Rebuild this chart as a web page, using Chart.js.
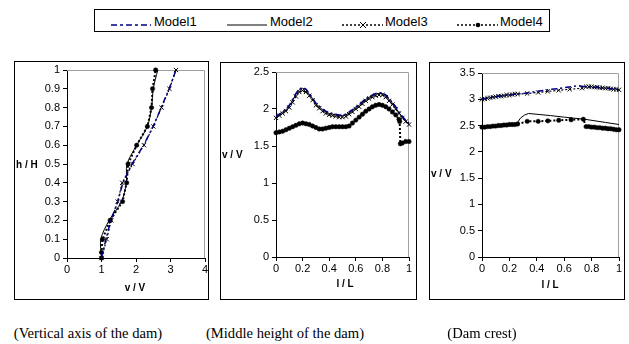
<!DOCTYPE html>
<html>
<head>
<meta charset="utf-8">
<script src="https://cdn.jsdelivr.net/npm/chart.js@4/dist/chart.umd.min.js"></script>
<style>
  body { margin: 0; background: #fff; width: 629px; height: 344px; position: relative; overflow: hidden; font-family: 'Liberation Sans', Arial, sans-serif; }
  .legend { position: absolute; left: 94px; top: 9px; width: 456px; height: 23px; box-sizing: border-box; border: 1px solid #000; }
  .item { position: absolute; top: 5px; height: 14px; font-size: 13px; line-height: 14px; white-space: nowrap; }
  .item svg { position: absolute; left: 0; top: 2px; }
  .item span { position: absolute; top: 0; }
  .panel { position: absolute; outline: 1px solid #000; outline-offset: -1px; }
  .axt { position: absolute; font-size: 10px; font-weight: bold; white-space: nowrap; transform: translateY(-50%); }
  .axt.c { transform: translate(-50%, -50%); }
  .cap { position: absolute; top: 333px; font-family: 'Liberation Serif', 'Times New Roman', serif; font-size: 14.6px; white-space: nowrap; transform: translate(-50%, -50%); }
</style>
</head>
<body>

<div class="legend">
  <div class="item" style="left:16px"><svg width="40" height="12"><line x1="0" y1="8" x2="40" y2="8" stroke="#000080" stroke-width="1.5" stroke-dasharray="6,3,3,3"/></svg><span style="left:43px">Model1</span></div>
  <div class="item" style="left:132px"><svg width="40" height="12"><line x1="0" y1="8" x2="40" y2="8" stroke="#000" stroke-width="1"/></svg><span style="left:43px">Model2</span></div>
  <div class="item" style="left:247px"><svg width="41" height="12"><line x1="0" y1="8" x2="41" y2="8" stroke="#000" stroke-width="1.5" stroke-dasharray="2,2"/><path d="M18 5 L24 11 M24 5 L18 11" stroke="#000" stroke-width="1"/></svg><span style="left:43px">Model3</span></div>
  <div class="item" style="left:362px"><svg width="41" height="12"><line x1="0" y1="8" x2="41" y2="8" stroke="#000" stroke-width="1.5" stroke-dasharray="2,2"/><circle cx="21" cy="8" r="2.3" fill="#000"/></svg><span style="left:43px">Model4</span></div>
</div>

<div class="panel" style="left:14px;top:61px;width:195px;height:239px"><canvas id="axisChart" width="195" height="239"></canvas></div>
<div class="panel" style="left:220px;top:62px;width:197px;height:238px"><canvas id="midChart" width="197" height="238"></canvas></div>
<div class="panel" style="left:429px;top:62px;width:196px;height:238px"><canvas id="crestChart" width="196" height="238"></canvas></div>

<div class="axt" style="left:16px;top:164px">h / H</div>
<div class="axt c" style="left:135px;top:287px">v / V</div>
<div class="axt" style="left:222px;top:154px">v / V</div>
<div class="axt c" style="left:345px;top:283px">l / L</div>
<div class="axt" style="left:431px;top:173px">v / V</div>
<div class="axt c" style="left:550px;top:284px">l / L</div>

<div class="cap" style="left:88px">(Vertical axis of the dam)</div>
<div class="cap" style="left:285px">(Middle height of the dam)</div>
<div class="cap" style="left:482px">(Dam crest)</div>

<script>
const modelNames = ['Model1', 'Model2', 'Model3', 'Model4'];

// vertical axis of the dam: v/V against h/H
const axisH = [0, 0.1, 0.2, 0.3, 0.4, 0.5, 0.6, 0.7, 0.8, 0.9, 1];
const axisModel1 = [1.0, 1.13, 1.27, 1.47, 1.62, 1.88, 2.22, 2.50, 2.73, 2.96, 3.16];
const axisModel2 = [1.0, 0.98, 1.22, 1.58, 1.72, 1.74, 2.02, 2.33, 2.45, 2.50, 2.63];
const axisModel3 = [1.0, 1.15, 1.28, 1.47, 1.60, 1.90, 2.23, 2.50, 2.74, 2.97, 3.16];
const axisH4 = [0, 0.03, 0.1, 0.2, 0.3, 0.4, 0.5, 0.6, 0.7, 0.8, 0.9, 1];
const axisModel4 = [1.0, 1.0, 1.03, 1.25, 1.61, 1.73, 1.77, 2.02, 2.33, 2.45, 2.48, 2.57];

// middle height of the dam: v/V against l/L
const midL = [0, 0.025, 0.05, 0.075, 0.1, 0.125, 0.15, 0.175, 0.2, 0.225, 0.25, 0.275, 0.3, 0.325, 0.35, 0.375, 0.4, 0.425, 0.45, 0.475, 0.5,
  0.525, 0.55, 0.575, 0.6, 0.625, 0.65, 0.675, 0.7, 0.725, 0.75, 0.775, 0.8, 0.825, 0.85, 0.875, 0.9, 0.925, 0.95, 0.975, 1];
const midModel1 = [1.90, 1.93, 1.96, 2.00, 2.05, 2.13, 2.21, 2.27, 2.29, 2.27, 2.21, 2.15, 2.08, 2.04, 2.00, 1.97, 1.95, 1.94, 1.93, 1.92, 1.92,
  1.93, 1.96, 1.99, 2.03, 2.06, 2.10, 2.14, 2.17, 2.19, 2.21, 2.22, 2.22, 2.19, 2.14, 2.09, 2.03, 1.96, 1.90, 1.85, 1.81];
const midModel2 = [1.90, 1.93, 1.96, 1.99, 2.04, 2.12, 2.20, 2.26, 2.28, 2.26, 2.20, 2.14, 2.07, 2.03, 1.99, 1.96, 1.94, 1.93, 1.92, 1.91, 1.91,
  1.92, 1.95, 1.98, 2.02, 2.05, 2.09, 2.13, 2.16, 2.18, 2.20, 2.21, 2.21, 2.18, 2.13, 2.08, 2.02, 1.95, 1.89, 1.84, 1.80];
const midModel3 = [1.88, 1.91, 1.94, 1.97, 2.02, 2.09, 2.17, 2.23, 2.25, 2.23, 2.18, 2.12, 2.05, 2.01, 1.97, 1.94, 1.92, 1.91, 1.90, 1.89, 1.89,
  1.90, 1.93, 1.96, 2.00, 2.03, 2.07, 2.11, 2.14, 2.16, 2.18, 2.19, 2.19, 2.16, 2.11, 2.06, 2.00, 1.94, 1.88, 1.83, 1.79];
const midL4 = [0, 0.025, 0.05, 0.075, 0.1, 0.125, 0.15, 0.175, 0.2, 0.225, 0.25, 0.275, 0.3, 0.325, 0.35, 0.375, 0.4, 0.425, 0.45, 0.475, 0.5,
  0.525, 0.55, 0.575, 0.6, 0.625, 0.65, 0.675, 0.7, 0.725, 0.75, 0.775, 0.8, 0.825, 0.85, 0.875, 0.9, 0.925, 0.93, 0.935, 0.95, 0.975, 1];
const midModel4 = [1.68, 1.69, 1.70, 1.72, 1.74, 1.76, 1.78, 1.80, 1.81, 1.80, 1.79, 1.77, 1.75, 1.73, 1.73, 1.74, 1.75, 1.76, 1.76, 1.76, 1.76,
  1.76, 1.77, 1.81, 1.85, 1.89, 1.93, 1.97, 2.00, 2.03, 2.05, 2.06, 2.05, 2.03, 2.00, 1.96, 1.92, 1.86, 1.83, 1.53, 1.54, 1.56, 1.56];

// dam crest: v/V against l/L
const crestL1 = [0, 0.05, 0.1, 0.15, 0.2, 0.25, 0.3, 0.35, 0.4, 0.45, 0.5, 0.55, 0.6, 0.65, 0.7, 0.75, 0.8, 0.85, 0.9, 0.95, 1];
const crestModel1 = [3.00, 3.03, 3.05, 3.07, 3.08, 3.10, 3.11, 3.13, 3.15, 3.17, 3.19, 3.20, 3.22, 3.24, 3.26, 3.24, 3.23, 3.22, 3.21, 3.20, 3.18];
const crestL2 = [0, 0.05, 0.1, 0.15, 0.2, 0.25, 0.26, 0.28, 0.31, 0.34, 0.5, 0.6, 0.75, 0.9, 1];
const crestModel2 = [2.48, 2.49, 2.50, 2.51, 2.52, 2.53, 2.56, 2.64, 2.70, 2.73, 2.69, 2.66, 2.62, 2.56, 2.52];
const crestL3 = [0, 0.02, 0.04, 0.06, 0.08, 0.1, 0.12, 0.14, 0.16, 0.18, 0.2, 0.22, 0.24, 0.26,
  0.33, 0.41, 0.48, 0.56, 0.64, 0.73,
  0.76, 0.78, 0.8, 0.82, 0.84, 0.86, 0.88, 0.9, 0.92, 0.94, 0.96, 0.98, 1];
const crestModel3 = [3.00, 3.01, 3.02, 3.03, 3.04, 3.05, 3.06, 3.06, 3.07, 3.08, 3.08, 3.09, 3.10, 3.10,
  3.11, 3.13, 3.15, 3.17, 3.19, 3.21,
  3.24, 3.24, 3.24, 3.23, 3.23, 3.22, 3.22, 3.21, 3.21, 3.20, 3.19, 3.19, 3.18];
const crestL4 = [0, 0.02, 0.04, 0.06, 0.08, 0.1, 0.12, 0.14, 0.16, 0.18, 0.2, 0.22, 0.24, 0.26,
  0.33, 0.41, 0.48, 0.56, 0.65, 0.74,
  0.76, 0.78, 0.8, 0.82, 0.84, 0.86, 0.88, 0.9, 0.92, 0.94, 0.96, 0.98, 1];
const crestModel4 = [2.47, 2.47, 2.48, 2.48, 2.49, 2.49, 2.50, 2.50, 2.51, 2.51, 2.52, 2.52, 2.52, 2.53,
  2.58, 2.58, 2.59, 2.60, 2.61, 2.62,
  2.48, 2.48, 2.47, 2.47, 2.46, 2.46, 2.45, 2.45, 2.44, 2.44, 2.43, 2.42, 2.42];

// tick labels
const axisTicksX = [0, 1, 2, 3, 4];
const axisTicksY = [0, 0.1, 0.2, 0.3, 0.4, 0.5, 0.6, 0.7, 0.8, 0.9, 1];
const lTicks = [0, 0.2, 0.4, 0.6, 0.8, 1];
const midTicksY = [0, 0.5, 1, 1.5, 2, 2.5];
const crestTicksY = [0, 0.5, 1, 1.5, 2, 2.5, 3, 3.5];

Chart.defaults.font.family = "'Liberation Sans', Arial, sans-serif";
Chart.defaults.font.size = 11;
Chart.defaults.color = '#000';

function pts(xs, ys) {
  return xs.map((x, i) => ({ x: x, y: ys[i] }));
}

// grey frame on top and right of the plot area
const plotFrame = {
  id: 'plotFrame',
  beforeDatasetsDraw(chart) {
    const a = chart.chartArea, ctx = chart.ctx;
    ctx.save();
    ctx.strokeStyle = '#a0a0a0';
    ctx.lineWidth = 1;
    ctx.beginPath();
    ctx.moveTo(a.left, a.top + 0.5);
    ctx.lineTo(a.right - 0.5, a.top + 0.5);
    ctx.lineTo(a.right - 0.5, a.bottom);
    ctx.stroke();
    ctx.restore();
  }
};

const styles = [
  { borderColor: '#000080', borderWidth: 1.5, borderDash: [6, 3, 2, 3], pointRadius: 0 },
  { borderColor: '#000', borderWidth: 1, pointRadius: 0 },
  { borderColor: '#000', borderWidth: 1.2, borderDash: [2, 2], pointStyle: 'crossRot', pointRadius: 3, pointBorderWidth: 1, pointBorderColor: '#000' },
  { borderColor: '#000', borderWidth: 2, borderDash: [2, 2], pointStyle: 'circle', pointRadius: 2.2, pointBackgroundColor: '#000', pointBorderColor: '#000', pointBorderWidth: 0.5 }
];

function series(list, tension) {
  return list.map((d, i) => Object.assign({
    label: modelNames[i],
    data: d,
    showLine: true,
    fill: false,
    clip: false,
    tension: i == 1 ? tension : 0
  }, styles[i]));
}

function axisOpts(ticks, min, max, size, isY) {
  return {
    type: 'linear',
    min: min,
    max: max,
    afterBuildTicks: s => { s.ticks = ticks.map(v => ({ value: v })); },
    afterFit: s => {
      if (isY) s.width = size; else s.height = size;
      s.paddingLeft = 0; s.paddingRight = 0; s.paddingTop = 0; s.paddingBottom = 0;
    },
    ticks: { padding: isY ? 3 : 1, maxRotation: 0, autoSkip: false, callback: v => String(v), font: { size: 11 } },
    grid: { drawOnChartArea: false, tickLength: 4, color: '#000', tickColor: '#000' },
    border: { display: true, color: '#000', width: 1 }
  };
}

function makePanel(id, datasets, xs, ys, pad) {
  new Chart(document.getElementById(id), {
    type: 'scatter',
    data: { datasets: datasets },
    options: {
      responsive: false,
      animation: false,
      layout: { autoPadding: false, padding: { left: 0, right: pad.right, top: pad.top, bottom: 0 } },
      plugins: { legend: { display: false }, tooltip: { enabled: false } },
      scales: {
        x: axisOpts(xs.ticks, xs.min, xs.max, pad.bottom, false),
        y: axisOpts(ys.ticks, ys.min, ys.max, pad.left, true)
      }
    },
    plugins: [plotFrame]
  });
}

makePanel('axisChart',
  series([pts(axisModel1, axisH), pts(axisModel2, axisH), pts(axisModel3, axisH), pts(axisModel4, axisH4)], 0.3),
  { ticks: axisTicksX, min: 0, max: 4 },
  { ticks: axisTicksY, min: 0, max: 1 },
  { left: 53, right: 4, top: 9, bottom: 42 });

makePanel('midChart',
  series([pts(midL, midModel1), pts(midL, midModel2), pts(midL, midModel3), pts(midL4, midModel4)], 0),
  { ticks: lTicks, min: 0, max: 1 },
  { ticks: midTicksY, min: 0, max: 2.5 },
  { left: 56, right: 8, top: 10, bottom: 43 });

makePanel('crestChart',
  series([pts(crestL1, crestModel1), pts(crestL2, crestModel2), pts(crestL3, crestModel3), pts(crestL4, crestModel4)], 0),
  { ticks: lTicks, min: 0, max: 1 },
  { ticks: crestTicksY, min: 0, max: 3.5 },
  { left: 53, right: 6, top: 11, bottom: 43 });
</script>
</body>
</html>
